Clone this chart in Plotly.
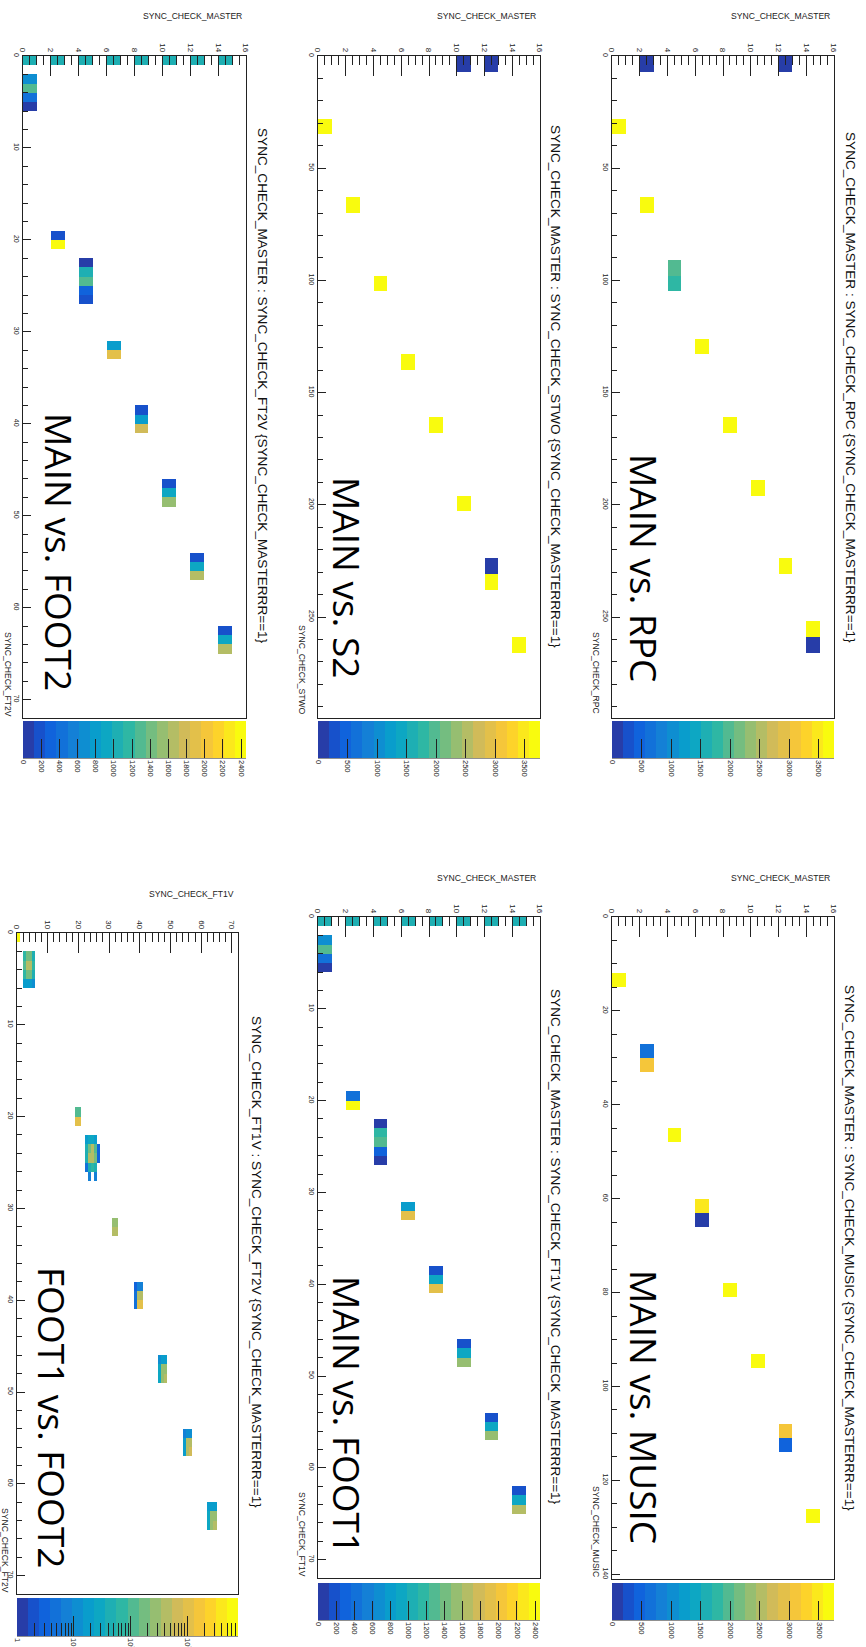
import numpy as np
import plotly.graph_objects as go

W, H = 866, 1647
FONT = "Liberation Sans, Arial, sans-serif"
INK = "#222222"

# ---------------- data ----------------
# MAIN vs. FOOT2 : SYNC_CHECK_MASTER (x) vs SYNC_CHECK_FT2V (y, bins of 1)
FT2_MASTER = [0, 2, 4, 6, 8, 10, 12, 14, 0, 0, 0, 0, 2, 2, 4, 4, 4, 4, 4,
              6, 6, 8, 8, 8, 10, 10, 10, 12, 12, 12, 14, 14, 14]
FT2_BIN = [0, 0, 0, 0, 0, 0, 0, 0, 2, 3, 4, 5, 19, 20, 22, 23, 24, 25, 26,
           31, 32, 38, 39, 40, 46, 47, 48, 54, 55, 56, 62, 63, 64]
FT2_COUNT = [1040, 1040, 1040, 1040, 1040, 1040, 1040, 1040, 650, 1250, 480, 60,
             240, 2400, 60, 1040, 1230, 330, 150, 740, 1960, 184, 800, 1780,
             184, 920, 1530, 184, 860, 1650, 184, 920, 1660]

# MAIN vs. S2 : SYNC_CHECK_MASTER vs SYNC_CHECK_STWO (bins of 7)
S2_MASTER = [10, 12, 0, 2, 4, 6, 8, 10, 12, 12, 14]
S2_BIN = [0, 0, 28, 63, 98, 133, 161, 196, 224, 231, 259]
S2_COUNT = [150, 150, 3700, 3700, 3700, 3700, 3700, 3700, 180, 3650, 3700]

# MAIN vs. RPC : SYNC_CHECK_MASTER vs SYNC_CHECK_RPC (bins of 7)
RPC_MASTER = [2, 12, 0, 2, 4, 4, 6, 8, 10, 12, 14, 14]
RPC_BIN = [0, 0, 28, 63, 91, 98, 126, 161, 189, 224, 252, 259]
RPC_COUNT = [150, 150, 3700, 3700, 1950, 1780, 3700, 3700, 3700, 3700, 3600, 150]

# FOOT1 vs. FOOT2 : SYNC_CHECK_FT1V (x) vs SYNC_CHECK_FT2V (y), log colour scale
FF_FT1 = [0,
          2, 3, 4, 5, 2, 3, 4, 5, 2, 3, 4, 5, 2, 3, 4, 5,
          19, 20, 19, 20,
          22, 23, 24, 25, 22, 23, 24, 25, 26, 22, 23, 24, 25, 26, 22, 23, 24, 25, 23, 25,
          31, 32, 31, 32,
          38, 39, 40, 38, 39, 40, 38, 39, 40,
          46, 47, 48, 46, 47, 48, 46, 47, 48,
          54, 55, 56, 54, 55, 56, 54, 55, 56,
          62, 63, 64, 62, 63, 64, 62, 63, 64]
FF_FT2 = [0,
          2, 2, 2, 2, 3, 3, 3, 3, 4, 4, 4, 4, 5, 5, 5, 5,
          19, 19, 20, 20,
          22, 22, 22, 22, 23, 23, 23, 23, 23, 24, 24, 24, 24, 24, 25, 25, 25, 25, 26, 26,
          31, 31, 32, 32,
          38, 38, 38, 39, 39, 39, 40, 40, 40,
          46, 46, 46, 47, 47, 47, 48, 48, 48,
          54, 54, 54, 55, 55, 55, 56, 56, 56,
          62, 62, 62, 63, 63, 63, 64, 64, 64]
FF_COUNT = [7500,
            70, 170, 170, 45, 110, 420, 420, 70, 70, 170, 170, 45, 18, 18, 18, 12,
            110, 110, 1030, 1030,
            18, 29, 29, 18, 45, 170, 420, 110, 3, 45, 420, 420, 170, 3, 5, 45, 70, 45, 7, 7,
            270, 270, 500, 500,
            3, 7, 7, 5, 420, 420, 5, 1030, 1030,
            12, 18, 18, 29, 270, 270, 29, 270, 420,
            7, 12, 12, 18, 420, 420, 18, 420, 660,
            18, 18, 18, 29, 270, 270, 29, 270, 420]

# MAIN vs. FOOT1 : SYNC_CHECK_MASTER vs SYNC_CHECK_FT1V (bins of 1)
FT1_MASTER = [0, 2, 4, 6, 8, 10, 12, 14, 0, 0, 0, 0, 2, 2, 4, 4, 4, 4, 4,
              6, 6, 8, 8, 8, 10, 10, 10, 12, 12, 12, 14, 14, 14]
FT1_BIN = [0, 0, 0, 0, 0, 0, 0, 0, 2, 3, 4, 5, 19, 20, 22, 23, 24, 25, 26,
           31, 32, 38, 39, 40, 46, 47, 48, 54, 55, 56, 62, 63, 64]
FT1_COUNT = [1040, 1040, 1040, 1040, 1040, 1040, 1040, 1040, 680, 1290, 450, 60,
             430, 2400, 60, 1150, 1290, 330, 120, 800, 1900, 184, 920, 1900,
             184, 920, 1530, 184, 920, 1530, 184, 860, 1600]

# MAIN vs. MUSIC : SYNC_CHECK_MASTER vs SYNC_CHECK_MUSIC (bins of 3)
MUSIC_MASTER = [0, 2, 2, 4, 6, 6, 8, 10, 12, 12, 14]
MUSIC_BIN = [12, 27, 30, 45, 60, 63, 78, 93, 108, 111, 126]
MUSIC_COUNT = [3700, 650, 3100, 3700, 3550, 150, 3700, 3700, 3100, 560, 3700]

# ---------------- ROOT kBird palette, 20 contour bands ----------------
BIRD_STOPS = [0.0, 0.125, 0.25, 0.375, 0.5, 0.625, 0.75, 0.875, 1.0]
BIRD_R = [0.2082, 0.0592, 0.0780, 0.0232, 0.1802, 0.5301, 0.8186, 0.9956, 0.9764]
BIRD_G = [0.1664, 0.3599, 0.5041, 0.6419, 0.7178, 0.7492, 0.7328, 0.7862, 0.9832]
BIRD_B = [0.5293, 0.8684, 0.8385, 0.7914, 0.6425, 0.4662, 0.3499, 0.1968, 0.0539]


def bird(f):
    r = np.interp(f, BIRD_STOPS, BIRD_R)
    g = np.interp(f, BIRD_STOPS, BIRD_G)
    b = np.interp(f, BIRD_STOPS, BIRD_B)
    return "rgb(%d,%d,%d)" % (round(r * 255), round(g * 255), round(b * 255))


def stepped_scale(n=20):
    cs = []
    for i in range(n):
        f = min(1.0, np.floor((i + 0.99) * 255 / n) / 254)
        c = bird(f)
        cs.append([i / n, c])
        cs.append([(i + 1) / n, c])
    return cs


SCALE = stepped_scale()
CLEAR = [[0, "rgba(0,0,0,0)"], [1, "rgba(0,0,0,0)"]]

PANELS = [
    dict(box=(23, 56, 246, 718), xr=[0, 16], yr=[72, 0], xdt=2, xmin=0.5, ydt=10, ymin=2,
         xbin=1, ybin=1, nx=16, ny=72, data=(FT2_MASTER, FT2_BIN, FT2_COUNT), zmax=2455,
         cb=(721, 758), cdt=200, log=False,
         xtitle="SYNC_CHECK_MASTER", xt_y=16, ytitle="SYNC_CHECK_FT2V", yt=(8, 674),
         title="SYNC_CHECK_MASTER : SYNC_CHECK_FT2V {SYNC_CHECK_MASTERRR==1}", tt=(263, 386),
         label="MAIN vs. FOOT2", lt=(60, 552)),
    dict(box=(318, 56, 540, 718), xr=[0, 16], yr=[295, 0], xdt=2, xmin=0.5, ydt=50, ymin=10,
         xbin=1, ybin=7, nx=16, ny=43, data=(S2_MASTER, S2_BIN, S2_COUNT), zmax=3760,
         cb=(721, 758), cdt=500, log=False,
         xtitle="SYNC_CHECK_MASTER", xt_y=16, ytitle="SYNC_CHECK_STWO", yt=(302, 670),
         title="SYNC_CHECK_MASTER : SYNC_CHECK_STWO {SYNC_CHECK_MASTERRR==1}", tt=(556, 386),
         label="MAIN vs. S2", lt=(348, 577)),
    dict(box=(612, 56, 834, 718), xr=[0, 16], yr=[295, 0], xdt=2, xmin=0.5, ydt=50, ymin=10,
         xbin=1, ybin=7, nx=16, ny=43, data=(RPC_MASTER, RPC_BIN, RPC_COUNT), zmax=3760,
         cb=(721, 758), cdt=500, log=False,
         xtitle="SYNC_CHECK_MASTER", xt_y=16, ytitle="SYNC_CHECK_RPC", yt=(596, 673),
         title="SYNC_CHECK_MASTER : SYNC_CHECK_RPC {SYNC_CHECK_MASTERRR==1}", tt=(851, 387),
         label="MAIN vs. RPC", lt=(645, 568)),
    dict(box=(17, 933, 238, 1594), xr=[0, 72], yr=[72, 0], xdt=10, xmin=2, ydt=10, ymin=2,
         xbin=1, ybin=1, nx=72, ny=72, data=(FF_FT1, FF_FT2, FF_COUNT), zmax=3.89,
         cb=(1598, 1636), cdt=None, log=True,
         xtitle="SYNC_CHECK_FT1V", xt_y=894, ytitle="SYNC_CHECK_FT2V", yt=(5, 1550),
         title="SYNC_CHECK_FT1V : SYNC_CHECK_FT2V {SYNC_CHECK_MASTERRR==1}", tt=(257, 1262),
         label="FOOT1 vs. FOOT2", lt=(53, 1417)),
    dict(box=(318, 917, 540, 1578), xr=[0, 16], yr=[72, 0], xdt=2, xmin=0.5, ydt=10, ymin=2,
         xbin=1, ybin=1, nx=16, ny=72, data=(FT1_MASTER, FT1_BIN, FT1_COUNT), zmax=2455,
         cb=(1583, 1620), cdt=200, log=False,
         xtitle="SYNC_CHECK_MASTER", xt_y=878, ytitle="SYNC_CHECK_FT1V", yt=(302, 1534),
         title="SYNC_CHECK_MASTER : SYNC_CHECK_FT1V {SYNC_CHECK_MASTERRR==1}", tt=(556, 1247),
         label="MAIN vs. FOOT1", lt=(348, 1415)),
    dict(box=(612, 917, 834, 1579), xr=[0, 16], yr=[141, 0], xdt=2, xmin=0.5, ydt=20, ymin=5,
         xbin=1, ybin=3, nx=16, ny=47, data=(MUSIC_MASTER, MUSIC_BIN, MUSIC_COUNT), zmax=3754,
         cb=(1583, 1620), cdt=500, log=False,
         xtitle="SYNC_CHECK_MASTER", xt_y=878, ytitle="SYNC_CHECK_MUSIC", yt=(596, 1531),
         title="SYNC_CHECK_MASTER : SYNC_CHECK_MUSIC {SYNC_CHECK_MASTERRR==1}", tt=(850, 1248),
         label="MAIN vs. MUSIC", lt=(645, 1407)),
]


def px_x(v):
    return v / W


def px_y(v):
    return 1 - v / H


fig = go.Figure()
layout = dict(width=W, height=H, margin=dict(l=0, r=0, t=0, b=0, pad=0, autoexpand=False),
              paper_bgcolor="white", plot_bgcolor="white", showlegend=False,
              font=dict(family=FONT, color=INK))
annotations = []
shapes = []

for i, p in enumerate(PANELS):
    k = "" if i == 0 else str(i + 1)
    xa, ya = "x" + k, "y" + k
    l, t, r, b = p["box"]
    xs, ys, cs = p["data"]
    z = np.full((p["ny"], p["nx"]), np.nan)
    for xv, yv, cv in zip(xs, ys, cs):
        z[int(yv // p["ybin"]), int(xv // p["xbin"])] = np.log10(cv) if p["log"] else cv
    zl = [[None if np.isnan(v) else float(v) for v in row] for row in z]

    cb_t, cb_b = p["cb"]
    cbar = dict(orientation="h", x=px_x((l + r) / 2), xanchor="center",
                y=px_y(cb_t), yanchor="top", len=r - l, lenmode="pixels",
                thickness=cb_b - cb_t, thicknessmode="pixels", xpad=0, ypad=0,
                outlinewidth=0, ticks="inside", ticklen=19, tickwidth=1, tickcolor=INK,
                tickangle=90, tickfont=dict(size=7.5, family=FONT, color=INK))
    if p["log"]:
        cbar.update(tickmode="array", tickvals=[0, 1, 2, 3],
                    ticktext=["1", "10", "10<sup>2</sup>", "10<sup>3</sup>"], ticklen=20)
    else:
        cbar.update(tick0=0, dtick=p["cdt"])

    fig.add_trace(go.Heatmap(z=zl, x0=p["xbin"] / 2, dx=p["xbin"], y0=p["ybin"] / 2, dy=p["ybin"],
                             zmin=0, zmax=p["zmax"], colorscale=SCALE, colorbar=cbar,
                             xaxis=xa, yaxis=ya, hoverinfo="skip"))
    if p["log"]:
        minors = [float(np.log10(m * 10 ** d)) for d in range(4) for m in range(2, 10)
                  if np.log10(m * 10 ** d) < p["zmax"]]
        cbar2 = dict(cbar)
        cbar2.pop("ticktext", None)
        cbar2.update(tickmode="array", tickvals=minors, ticklen=13,
                     showticklabels=False, bgcolor="rgba(0,0,0,0)")
        fig.add_trace(go.Heatmap(z=zl, x0=p["xbin"] / 2, dx=p["xbin"], y0=p["ybin"] / 2,
                                 dy=p["ybin"], zmin=0, zmax=p["zmax"], colorscale=CLEAR,
                                 colorbar=cbar2, xaxis=xa, yaxis=ya, hoverinfo="skip"))

    layout["xaxis" + k] = dict(domain=[px_x(l), px_x(r)], range=p["xr"], anchor=ya, side="top",
                               ticks="inside", ticklen=20, tickwidth=1, tickcolor=INK,
                               tick0=0, dtick=p["xdt"], tickangle=90,
                               tickfont=dict(size=8, family=FONT, color=INK),
                               showline=True, linecolor=INK, linewidth=1, mirror=True,
                               showgrid=False, zeroline=False, fixedrange=True,
                               minor=dict(dtick=p["xmin"], ticks="inside", ticklen=9,
                                          tickcolor=INK, tickwidth=1, showgrid=False))
    layout["yaxis" + k] = dict(domain=[px_y(b), px_y(t)], range=p["yr"], anchor=xa,
                               ticks="inside", ticklen=8, tickwidth=1, tickcolor=INK,
                               tick0=0, dtick=p["ydt"], tickangle=90,
                               tickfont=dict(size=7, family=FONT, color=INK),
                               showline=True, linecolor=INK, linewidth=1, mirror=True,
                               showgrid=False, zeroline=False, fixedrange=True,
                               minor=dict(dtick=p["ymin"], ticks="inside", ticklen=5,
                                          tickcolor=INK, tickwidth=1, showgrid=False))

    shapes.append(dict(type="line", xref="paper", yref="paper", x0=px_x(l), x1=px_x(r),
                       y0=px_y(cb_b), y1=px_y(cb_b), line=dict(color=INK, width=1)))

    annotations.append(dict(text=p["xtitle"], xref="paper", yref="paper", x=px_x(r - 2),
                            y=px_y(p["xt_y"]), xanchor="right", yanchor="middle",
                            showarrow=False, font=dict(size=8.6, family=FONT, color=INK)))
    annotations.append(dict(text=p["ytitle"], xref="paper", yref="paper", x=px_x(p["yt"][0]),
                            y=px_y(p["yt"][1]), xanchor="center", yanchor="middle",
                            textangle=90, showarrow=False,
                            font=dict(size=8.6, family=FONT, color=INK)))
    annotations.append(dict(text=p["title"], xref="paper", yref="paper", x=px_x(p["tt"][0]),
                            y=px_y(p["tt"][1]), xanchor="center", yanchor="middle",
                            textangle=90, showarrow=False,
                            font=dict(size=13.6, family=FONT, color="#111111")))
    annotations.append(dict(text=p["label"], xref="paper", yref="paper", x=px_x(p["lt"][0]),
                            y=px_y(p["lt"][1]), xanchor="center", yanchor="middle",
                            textangle=90, showarrow=False,
                            font=dict(size=37, family="Open Sans, Noto Sans, sans-serif",
                                      color="black")))

layout["annotations"] = annotations
layout["shapes"] = shapes
fig.update_layout(**layout)
fig.write_html("out.html")
